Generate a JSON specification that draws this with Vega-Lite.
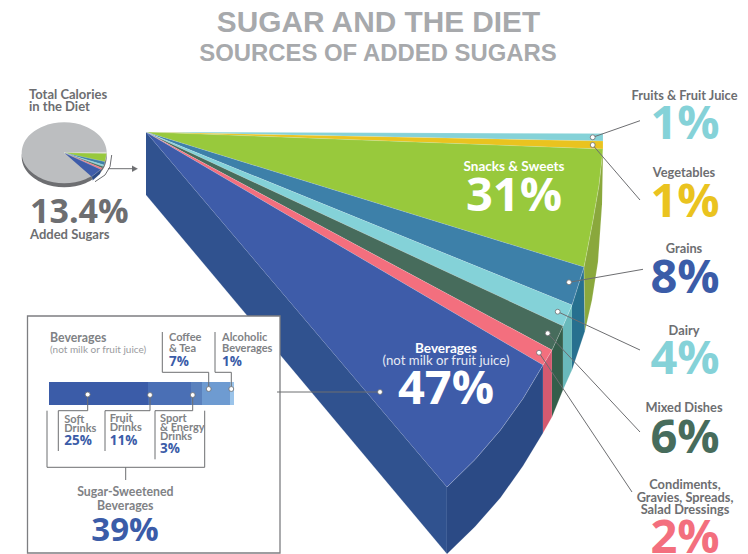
{
"$schema":"https://vega.github.io/schema/vega-lite/v6.json",
"width":748,"height":554,"padding":0,
"autosize":{"type":"none"},
"background":"white",
"view":{"stroke":null},
"resolve":{"scale":{"fill":"independent","color":"independent"}},
"encoding":{
"x":{"field":"x","type":"quantitative","scale":{"domain":[0,748],"nice":false,"zero":false},"axis":null},
"y":{"field":"y","type":"quantitative","scale":{"domain":[554,0],"nice":false,"zero":false},"axis":null}
},
"layer":[
{"data":{"values":[
{"p":"rim","i":0,"x":106.7,"y":156.8},{"p":"rim","i":1,"x":105.25,"y":164.7},{"p":"rim","i":2,"x":101,"y":172.05},{"p":"rim","i":3,"x":94.25,"y":178.36},{"p":"rim","i":4,"x":85.45,"y":183.21},{"p":"rim","i":5,"x":75.2,"y":186.26},{"p":"rim","i":6,"x":64.2,"y":187.3},{"p":"rim","i":7,"x":53.2,"y":186.26},{"p":"rim","i":8,"x":42.95,"y":183.21},{"p":"rim","i":9,"x":34.15,"y":178.36},{"p":"rim","i":10,"x":27.4,"y":172.05},{"p":"rim","i":11,"x":23.15,"y":164.7},{"p":"rim","i":12,"x":21.7,"y":156.8},{"p":"rim","i":13,"x":23.15,"y":148.9},{"p":"rim","i":14,"x":27.4,"y":141.55},{"p":"rim","i":15,"x":34.15,"y":135.24},{"p":"rim","i":16,"x":42.95,"y":130.39},{"p":"rim","i":17,"x":53.2,"y":127.34},{"p":"rim","i":18,"x":64.2,"y":126.3},{"p":"rim","i":19,"x":75.2,"y":127.34},{"p":"rim","i":20,"x":85.45,"y":130.39},{"p":"rim","i":21,"x":94.25,"y":135.24},{"p":"rim","i":22,"x":101,"y":141.55},{"p":"rim","i":23,"x":105.25,"y":148.9},
{"p":"calories","i":0,"x":106.7,"y":152.8},{"p":"calories","i":1,"x":105.25,"y":160.7},{"p":"calories","i":2,"x":101,"y":168.05},{"p":"calories","i":3,"x":94.25,"y":174.36},{"p":"calories","i":4,"x":85.45,"y":179.21},{"p":"calories","i":5,"x":75.2,"y":182.26},{"p":"calories","i":6,"x":64.2,"y":183.3},{"p":"calories","i":7,"x":53.2,"y":182.26},{"p":"calories","i":8,"x":42.95,"y":179.21},{"p":"calories","i":9,"x":34.15,"y":174.36},{"p":"calories","i":10,"x":27.4,"y":168.05},{"p":"calories","i":11,"x":23.15,"y":160.7},{"p":"calories","i":12,"x":21.7,"y":152.8},{"p":"calories","i":13,"x":23.15,"y":144.9},{"p":"calories","i":14,"x":27.4,"y":137.55},{"p":"calories","i":15,"x":34.15,"y":131.24},{"p":"calories","i":16,"x":42.95,"y":126.39},{"p":"calories","i":17,"x":53.2,"y":123.34},{"p":"calories","i":18,"x":64.2,"y":122.3},{"p":"calories","i":19,"x":75.2,"y":123.34},{"p":"calories","i":20,"x":85.45,"y":126.39},{"p":"calories","i":21,"x":94.25,"y":131.24},{"p":"calories","i":22,"x":101,"y":137.55},{"p":"calories","i":23,"x":105.25,"y":144.9}
]},
"mark":{"type":"line","interpolate":"cardinal-closed","strokeWidth":0},
"encoding":{"detail":{"field":"p"},"order":{"field":"i"},
"fill":{"field":"p","type":"nominal","legend":null,"scale":{"domain":["rim","calories"],"range":["#6d6e71","#bcbec0"]}}}},
{"data":{"values":[
{"p":"Left face","i":0,"x":146,"y":132},{"p":"Left face","i":1,"x":447,"y":487},{"p":"Left face","i":2,"x":447,"y":554},{"p":"Left face","i":3,"x":146,"y":195},
{"p":"Beverages side","i":0,"x":447,"y":487},{"p":"Beverages side","i":1,"x":475,"y":459.6},{"p":"Beverages side","i":2,"x":500.5,"y":430},{"p":"Beverages side","i":3,"x":523,"y":398.6},{"p":"Beverages side","i":4,"x":543,"y":365},{"p":"Beverages side","i":5,"x":543,"y":433},{"p":"Beverages side","i":6,"x":523,"y":466},{"p":"Beverages side","i":7,"x":500.5,"y":497.8},{"p":"Beverages side","i":8,"x":475,"y":526.8},{"p":"Beverages side","i":9,"x":447,"y":554},
{"p":"Condiments side","i":0,"x":543,"y":365},{"p":"Condiments side","i":1,"x":552,"y":350},{"p":"Condiments side","i":2,"x":552,"y":417},{"p":"Condiments side","i":3,"x":543,"y":433},
{"p":"Mixed side","i":0,"x":552,"y":350},{"p":"Mixed side","i":1,"x":563,"y":326},{"p":"Mixed side","i":2,"x":563,"y":390},{"p":"Mixed side","i":3,"x":552,"y":417},
{"p":"Dairy side","i":0,"x":563,"y":326},{"p":"Dairy side","i":1,"x":572,"y":305},{"p":"Dairy side","i":2,"x":572,"y":370},{"p":"Dairy side","i":3,"x":563,"y":390},
{"p":"Grains side","i":0,"x":572,"y":305},{"p":"Grains side","i":1,"x":584,"y":267},{"p":"Grains side","i":2,"x":585,"y":331},{"p":"Grains side","i":3,"x":572,"y":370},
{"p":"Snacks side","i":0,"x":603,"y":149},{"p":"Snacks side","i":1,"x":599,"y":185},{"p":"Snacks side","i":2,"x":593,"y":220},{"p":"Snacks side","i":3,"x":584,"y":267},{"p":"Snacks side","i":4,"x":585,"y":331},{"p":"Snacks side","i":5,"x":592,"y":300},{"p":"Snacks side","i":6,"x":598,"y":262},{"p":"Snacks side","i":7,"x":602,"y":205},
{"p":"Fruits","i":0,"x":146,"y":132},{"p":"Fruits","i":1,"x":603,"y":133.5},{"p":"Fruits","i":2,"x":603,"y":141},
{"p":"Vegetables","i":0,"x":146,"y":132},{"p":"Vegetables","i":1,"x":603,"y":141},{"p":"Vegetables","i":2,"x":603,"y":149},
{"p":"Snacks","i":0,"x":146,"y":132},{"p":"Snacks","i":1,"x":603,"y":149},{"p":"Snacks","i":2,"x":599,"y":185},{"p":"Snacks","i":3,"x":593,"y":220},{"p":"Snacks","i":4,"x":584,"y":267},
{"p":"Grains","i":0,"x":146,"y":132},{"p":"Grains","i":1,"x":584,"y":267},{"p":"Grains","i":2,"x":572,"y":305},
{"p":"Dairy","i":0,"x":146,"y":132},{"p":"Dairy","i":1,"x":572,"y":305},{"p":"Dairy","i":2,"x":563,"y":326},
{"p":"Mixed","i":0,"x":146,"y":132},{"p":"Mixed","i":1,"x":563,"y":326},{"p":"Mixed","i":2,"x":552,"y":350},
{"p":"Condiments","i":0,"x":146,"y":132},{"p":"Condiments","i":1,"x":552,"y":350},{"p":"Condiments","i":2,"x":543,"y":365},
{"p":"Beverages","i":0,"x":146,"y":132},{"p":"Beverages","i":1,"x":543,"y":365},{"p":"Beverages","i":2,"x":523,"y":398.6},{"p":"Beverages","i":3,"x":500.5,"y":430},{"p":"Beverages","i":4,"x":475,"y":459.6},{"p":"Beverages","i":5,"x":447,"y":487},
{"p":"Pie fruit","i":0,"x":64.2,"y":152.8},{"p":"Pie fruit","i":1,"x":106.7,"y":152.2},{"p":"Pie fruit","i":2,"x":106.6,"y":153.6},
{"p":"Pie snacks","i":0,"x":64.2,"y":152.8},{"p":"Pie snacks","i":1,"x":106.6,"y":153.6},{"p":"Pie snacks","i":2,"x":105,"y":161.7},
{"p":"Pie grains","i":0,"x":64.2,"y":152.8},{"p":"Pie grains","i":1,"x":105,"y":161.7},{"p":"Pie grains","i":2,"x":104,"y":165},
{"p":"Pie dairy","i":0,"x":64.2,"y":152.8},{"p":"Pie dairy","i":1,"x":104,"y":165},{"p":"Pie dairy","i":2,"x":103,"y":166.5},
{"p":"Pie mixed","i":0,"x":64.2,"y":152.8},{"p":"Pie mixed","i":1,"x":103,"y":166.5},{"p":"Pie mixed","i":2,"x":102,"y":168},
{"p":"Pie condiments","i":0,"x":64.2,"y":152.8},{"p":"Pie condiments","i":1,"x":102,"y":168},{"p":"Pie condiments","i":2,"x":101,"y":169.5},
{"p":"Pie beverages","i":0,"x":64.2,"y":152.8},{"p":"Pie beverages","i":1,"x":101,"y":169.5},{"p":"Pie beverages","i":2,"x":91.7,"y":176.7},
{"p":"Pie beverages side","i":0,"x":101,"y":169.5},{"p":"Pie beverages side","i":1,"x":91.7,"y":176.7},{"p":"Pie beverages side","i":2,"x":92.7,"y":180.5},{"p":"Pie beverages side","i":3,"x":100,"y":174},
{"p":"Arrow head","i":0,"x":132,"y":165.5},{"p":"Arrow head","i":1,"x":138,"y":168.7},{"p":"Arrow head","i":2,"x":132,"y":172}
]},
"mark":{"type":"line","stroke":"#ffffff","strokeWidth":0.5,"strokeOpacity":0.35},
"encoding":{"detail":{"field":"p"},"order":{"field":"i"},
"fill":{"field":"p","type":"nominal","legend":null,"scale":{
"domain":["Left face","Beverages side","Condiments side","Mixed side","Dairy side","Grains side","Snacks side","Fruits","Vegetables","Snacks","Grains","Dairy","Mixed","Condiments","Beverages","Pie fruit","Pie snacks","Pie grains","Pie dairy","Pie mixed","Pie condiments","Pie beverages","Pie beverages side","Arrow head"],
"range":["#30528f","#2b4a85","#d45a70","#355e4b","#69b9bb","#27708f","#8aa83c","#85d2d8","#eac31f","#98c93c","#3d80a9","#84d2d8","#476c5c","#f36f7e","#3e5ca9","#e4e6d6","#98c93c","#3d80a9","#84d2d8","#476c5c","#f36f7e","#3e5ca9","#2b4a85","#6d6e71"]}}}},
{"data":{"values":[{"x":27.5,"x2":280,"y":316,"y2":553}]},
"mark":{"type":"rect","fill":"white","stroke":"#7d7e81","strokeWidth":1.3},
"encoding":{"x2":{"field":"x2"},"y2":{"field":"y2"}}},
{"data":{"values":[
{"k":"Soft Drinks","x":49,"x2":148,"y":382,"y2":405},
{"k":"Fruit Drinks","x":148,"x2":191,"y":382,"y2":405},
{"k":"Sport & Energy Drinks","x":191,"x2":202,"y":382,"y2":405},
{"k":"Coffee & Tea","x":202,"x2":230,"y":382,"y2":405},
{"k":"Alcoholic Beverages","x":230,"x2":234,"y":382,"y2":405}
]},
"mark":{"type":"rect"},
"encoding":{"x2":{"field":"x2"},"y2":{"field":"y2"},
"fill":{"field":"k","type":"nominal","legend":null,"scale":{"domain":["Soft Drinks","Fruit Drinks","Sport & Energy Drinks","Coffee & Tea","Alcoholic Beverages"],"range":["#3b5ca8","#4a6fb5","#5a81bd","#6e9bd1","#9bc4ea"]}}}},
{"data":{"values":[
{"k":"a","i":0,"x":592.7,"y":137.3},{"k":"a","i":1,"x":640,"y":120.7},
{"k":"b","i":0,"x":592.7,"y":145},{"k":"b","i":1,"x":640,"y":200},
{"k":"c","i":0,"x":569,"y":282.3},{"k":"c","i":1,"x":643,"y":269.3},
{"k":"d","i":0,"x":557.7,"y":311.7},{"k":"d","i":1,"x":640,"y":350},
{"k":"e","i":0,"x":547.7,"y":333.3},{"k":"e","i":1,"x":640,"y":432},
{"k":"f","i":0,"x":539,"y":352.7},{"k":"f","i":1,"x":632,"y":492},
{"k":"g","i":0,"x":277,"y":392},{"k":"g","i":1,"x":380,"y":392},
{"k":"h","i":0,"x":87.7,"y":395},{"k":"h","i":1,"x":87.7,"y":410.7},{"k":"h","i":2,"x":58.3,"y":410.7},{"k":"h","i":3,"x":58.3,"y":451},
{"k":"j","i":0,"x":150,"y":395},{"k":"j","i":1,"x":150,"y":410.7},{"k":"j","i":2,"x":105,"y":410.7},{"k":"j","i":3,"x":105,"y":451},
{"k":"l","i":0,"x":192.7,"y":395},{"k":"l","i":1,"x":192.7,"y":410.7},{"k":"l","i":2,"x":155,"y":410.7},{"k":"l","i":3,"x":155,"y":459.3},
{"k":"m","i":0,"x":208.7,"y":389},{"k":"m","i":1,"x":208.7,"y":372.3},{"k":"m","i":2,"x":162.3,"y":372.3},{"k":"m","i":3,"x":162.3,"y":332},
{"k":"n","i":0,"x":231.3,"y":389},{"k":"n","i":1,"x":231.3,"y":372.3},{"k":"n","i":2,"x":215,"y":372.3},{"k":"n","i":3,"x":215,"y":332},
{"k":"o","i":0,"x":47,"y":410.7},{"k":"o","i":1,"x":47,"y":467.3},{"k":"o","i":2,"x":204.7,"y":467.3},{"k":"o","i":3,"x":204.7,"y":410.7},
{"k":"q","i":0,"x":125.7,"y":467.3},{"k":"q","i":1,"x":125.7,"y":480},
{"k":"r","i":0,"x":108,"y":168.7},{"k":"r","i":1,"x":134,"y":168.7},
{"k":"s","i":0,"x":111.7,"y":155},{"k":"s","i":1,"x":110,"y":166.7},{"k":"s","i":2,"x":105,"y":175},{"k":"s","i":3,"x":95,"y":181.7}
]},
"mark":{"type":"line","stroke":"#6d6e71","strokeWidth":1},
"encoding":{"detail":{"field":"k"},"order":{"field":"i"}}},
{"data":{"values":[
{"x":592.7,"y":137.3},{"x":592.7,"y":145},{"x":569,"y":282.3},{"x":557.7,"y":311.7},{"x":547.7,"y":333.3},{"x":539,"y":352.7},{"x":380,"y":392},{"x":87.7,"y":394.5},{"x":150,"y":395},{"x":192.7,"y":395},{"x":208.7,"y":389},{"x":231.3,"y":389}
]},
"mark":{"type":"point","filled":true,"fill":"white","stroke":"#6d6e71","strokeWidth":0.8,"size":24,"opacity":1}},
{"data":{"values":[{"t":"SUGAR AND THE DIET","x":378.5,"y":32}]},
"mark":{"type":"text","font":"Liberation Sans","fontWeight":"bold","fontSize":29.8,"color":"#a7a9ac","align":"center","baseline":"alphabetic"},"encoding":{"text":{"field":"t"}}},
{"data":{"values":[{"t":"SOURCES OF ADDED SUGARS","x":378,"y":61}]},
"mark":{"type":"text","font":"Liberation Sans","fontWeight":"bold","fontSize":23.9,"color":"#a7a9ac","align":"center","baseline":"alphabetic"},"encoding":{"text":{"field":"t"}}},
{"data":{"values":[
{"t":"Total Calories","x":29,"y":99},{"t":"in the Diet","x":29,"y":110.7},{"t":"Added Sugars","x":30,"y":239}
]},
"mark":{"type":"text","font":"Lato","fontWeight":"bold","fontSize":13,"color":"#6d6e71","align":"left","baseline":"alphabetic"},"encoding":{"text":{"field":"t"}}},
{"data":{"values":[{"t":"13.4%","x":30,"y":223}]},
"mark":{"type":"text","font":"Open Sans","fontWeight":"bold","fontSize":34,"color":"#6d6e71","align":"left","baseline":"alphabetic"},"encoding":{"text":{"field":"t"}}},
{"data":{"values":[
{"t":"Snacks & Sweets","x":514,"y":171},{"t":"Beverages","x":446,"y":353}
]},
"mark":{"type":"text","font":"Lato","fontWeight":"bold","fontSize":13.5,"color":"white","align":"center","baseline":"alphabetic"},"encoding":{"text":{"field":"t"}}},
{"data":{"values":[{"t":"(not milk or fruit juice)","x":446,"y":365}]},
"mark":{"type":"text","font":"Lato","fontWeight":"normal","fontSize":13.2,"color":"#e6eaf4","align":"center","baseline":"alphabetic"},"encoding":{"text":{"field":"t"}}},
{"data":{"values":[{"t":"31%","x":514,"y":211},{"t":"47%","x":446,"y":404}]},
"mark":{"type":"text","font":"Open Sans","fontWeight":"bold","fontSize":47,"color":"white","align":"center","baseline":"alphabetic"},"encoding":{"text":{"field":"t"}}},
{"data":{"values":[
{"t":"Fruits & Fruit Juice","x":684.5,"y":100},{"t":"Vegetables","x":684,"y":176.7},{"t":"Grains","x":684,"y":252.7},{"t":"Dairy","x":684,"y":335},{"t":"Mixed Dishes","x":684,"y":412},{"t":"Condiments,","x":685,"y":489},{"t":"Gravies, Spreads,","x":685,"y":501.5},{"t":"Salad Dressings","x":685,"y":514}
]},
"mark":{"type":"text","font":"Lato","fontWeight":"bold","fontSize":12.8,"color":"#6d6e71","align":"center","baseline":"alphabetic"},"encoding":{"text":{"field":"t"}}},
{"data":{"values":[
{"t":"1%","c":"Fruits","x":685,"y":139},{"t":"1%","c":"Vegetables","x":685,"y":217},{"t":"8%","c":"Grains","x":685,"y":293},{"t":"4%","c":"Dairy","x":685,"y":374},{"t":"6%","c":"Mixed","x":685,"y":453},{"t":"2%","c":"Condiments","x":685,"y":553}
]},
"mark":{"type":"text","font":"Open Sans","fontWeight":"bold","fontSize":47,"align":"center","baseline":"alphabetic"},
"encoding":{"text":{"field":"t"},"color":{"field":"c","type":"nominal","legend":null,"scale":{"domain":["Fruits","Vegetables","Grains","Dairy","Mixed","Condiments"],"range":["#85d2d8","#eac31f","#3b5ca8","#85d2d8","#476c5c","#f36f7e"]}}}},
{"data":{"values":[{"t":"Beverages","x":50,"y":342}]},
"mark":{"type":"text","font":"Lato","fontWeight":"bold","fontSize":12.3,"color":"#808285","align":"left","baseline":"alphabetic"},"encoding":{"text":{"field":"t"}}},
{"data":{"values":[
{"t":"Coffee","x":169,"y":340.7},{"t":"& Tea","x":169,"y":351.7},{"t":"Alcoholic","x":222,"y":340.7},{"t":"Beverages","x":222,"y":351.7},
{"t":"Soft","x":64.3,"y":423},{"t":"Drinks","x":64.3,"y":432},{"t":"Fruit","x":109.7,"y":422},{"t":"Drinks","x":109.7,"y":430.7},{"t":"Sport","x":160,"y":422},{"t":"& Energy","x":160,"y":431},{"t":"Drinks","x":160,"y":440}
]},
"mark":{"type":"text","font":"Lato","fontWeight":"bold","fontSize":11,"color":"#808285","align":"left","baseline":"alphabetic"},"encoding":{"text":{"field":"t"}}},
{"data":{"values":[{"t":"(not milk or fruit juice)","x":50,"y":353}]},
"mark":{"type":"text","font":"Lato","fontSize":10,"color":"#9a9b9e","align":"left","baseline":"alphabetic"},"encoding":{"text":{"field":"t"}}},
{"data":{"values":[
{"t":"7%","x":169,"y":365.7},{"t":"1%","x":222,"y":365.7},{"t":"25%","x":64.3,"y":445},{"t":"11%","x":109.7,"y":445},{"t":"3%","x":160,"y":453.3}
]},
"mark":{"type":"text","font":"Open Sans","fontWeight":"bold","fontSize":13.5,"color":"#3b5ca8","align":"left","baseline":"alphabetic"},"encoding":{"text":{"field":"t"}}},
{"data":{"values":[{"t":"Sugar-Sweetened","x":125.3,"y":496},{"t":"Beverages","x":125.3,"y":510}]},
"mark":{"type":"text","font":"Lato","fontWeight":"bold","fontSize":12.3,"color":"#808285","align":"center","baseline":"alphabetic"},"encoding":{"text":{"field":"t"}}},
{"data":{"values":[{"t":"39%","x":125,"y":540.7}]},
"mark":{"type":"text","font":"Open Sans","fontWeight":"bold","fontSize":33,"color":"#3b5ca8","align":"center","baseline":"alphabetic"},"encoding":{"text":{"field":"t"}}}
]
}
